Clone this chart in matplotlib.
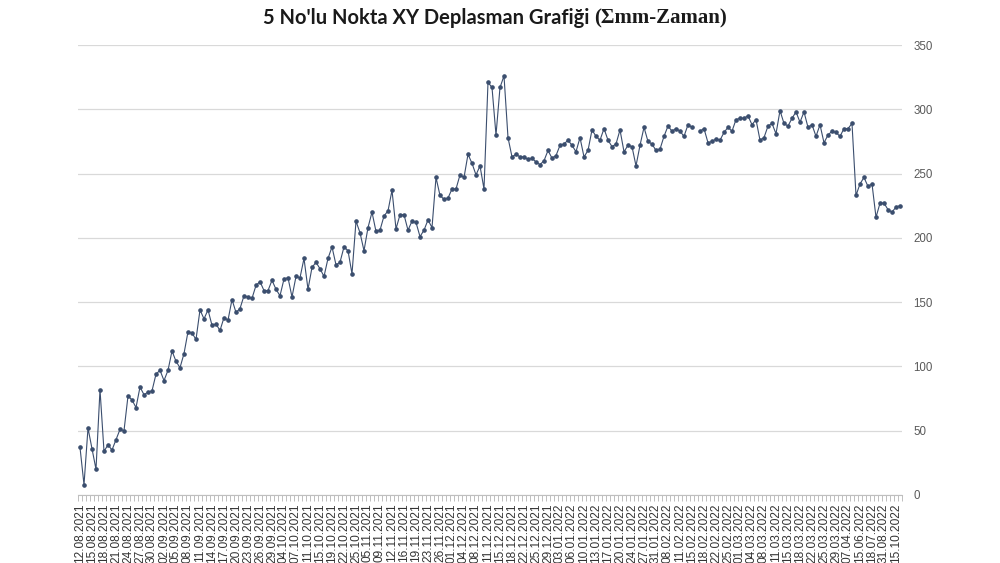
import matplotlib
matplotlib.use("Agg")
import matplotlib.pyplot as plt
import numpy as np

# x axis labels (every 3rd category is labelled)
date_labels = ["12.08.2021", "15.08.2021", "18.08.2021", "21.08.2021", "24.08.2021", "27.08.2021",
               "30.08.2021", "02.09.2021", "05.09.2021", "08.09.2021", "11.09.2021", "14.09.2021",
               "17.09.2021", "20.09.2021", "23.09.2021", "26.09.2021", "29.09.2021", "04.10.2021",
               "07.10.2021", "11.10.2021", "15.10.2021", "19.10.2021", "22.10.2021", "25.10.2021",
               "05.11.2021", "09.11.2021", "12.11.2021", "16.11.2021", "19.11.2021", "23.11.2021",
               "26.11.2021", "01.12.2021", "04.12.2021", "08.12.2021", "11.12.2021", "15.12.2021",
               "18.12.2021", "22.12.2021", "25.12.2021", "29.12.2021", "03.01.2022", "06.01.2022",
               "10.01.2022", "13.01.2022", "17.01.2022", "20.01.2022", "24.01.2022", "27.01.2022",
               "31.01.2022", "08.02.2022", "11.02.2022", "15.02.2022", "18.02.2022", "22.02.2022",
               "25.02.2022", "01.03.2022", "04.03.2022", "08.03.2022", "11.03.2022", "15.03.2022",
               "18.03.2022", "22.03.2022", "25.03.2022", "29.03.2022", "07.04.2022", "15.06.2022",
               "18.07.2022", "31.08.2022", "15.10.2022"]

# cumulative displacement (mm), None = missing reading
disp_2021a = [37, 8, 52, 36, 20, 82, 34, 39, 35, 43, 51, 50, 77, 74, 68, 84, 78, 80, 81, 94,
              97, 89, 97, 112, 104, 99, 110, 127, 126, 121, 144, 137, 144, 132, 133, 128, 138, 136, 152, 142,
              145, 155]
disp_2021b = [154, 153, 163, 166, 159, 159, 167, 160, 155, 168, 169, 154, 170, 169, 184, 160, 177, 181, 176, 170,
              184, 193, 179, 181, 193, 190, 172, 213, 204, 190, 208, 220, 205, 206, 217, 221, 237, 207, 218, 218]
disp_2021c = [206, 213, 212, 201, 206, 214, 208, 247, 233, 230, 231, 238, 238, 249, 247, 265, 258, 249, 256, 238,
              321, 317, 280, 317, 326, 278, 263, 265, 263, 263, 261, 262, 259, 257, 260, 268, 262, 264, 272, 273]
disp_2022a = [276, 272, 267, 278, 263, 268, 284, 279, 276, 285, 276, 271, 273, 284, 267, 272, 271, 256, 272, 286,
              275, 273, 268, 269, 279, 287, 283, 285, 283, 279, 288, 286, None, 283, 285, 274, 275, 277, 276, 282]
disp_2022b = [286, 283, 292, 293, 293, 295, 288, 292, 276, 278, 287, 289, 281, 299, 289, 287, 293, 298, 290, 298,
              286, 288, 279, 288, 274, 280, 283, 282, 279, 285, 285, 289, 233, 242, 247, 240, 242, 216, 227, 227,
              222, 220, 224, 225]

values = np.array([np.nan if v is None else v
                   for v in disp_2021a + disp_2021b + disp_2021c + disp_2022a + disp_2022b], dtype=float)
n = len(values)
x = np.arange(n)

fig = plt.figure(figsize=(10, 5.63), dpi=100)
ax = fig.add_axes([0.078, 0.1208, 0.824, 0.7992])

ax.plot(x, values, color="#3b4e6e", lw=0.8, marker="o", ms=2.3, zorder=3)

ax.set_xlim(-0.5, n - 0.5)
ax.set_ylim(0, 350)

# y axis on the right
ax.yaxis.tick_right()
ax.set_yticks(range(0, 351, 50))
ax.tick_params(axis="y", length=0, pad=8, labelsize=8.3, labelcolor="#595959")
for lab in ax.get_yticklabels():
    lab.set_family("Liberation Sans")
ax.grid(axis="y", color="#d9d9d9", lw=0.9)
ax.set_axisbelow(True)

for s in ["top", "left", "right"]:
    ax.spines[s].set_visible(False)
ax.spines["bottom"].set_color("#bfbfbf")

# category labels every 3rd point, tick marks between every category
lab_pos = x[::3][:len(date_labels)]
ax.set_xticks(lab_pos)
ax.set_xticklabels(date_labels, rotation=90, fontsize=8.6, color="#333333", family="Liberation Sans")
ax.set_xticks(np.arange(-0.5, n, 1), minor=True)
ax.tick_params(axis="x", which="major", length=0, pad=6)
ax.tick_params(axis="x", which="minor", length=4, color="#bfbfbf", width=0.7)

# title: sans part + serif part
part1 = "5 No'lu Nokta XY Deplasman Grafiği "
part2 = "(Σmm-Zaman)"
renderer = fig.canvas.get_renderer()
t1 = fig.text(0, 0.958, part1, fontsize=14.5, fontweight="bold", family=["Lato", "DejaVu Sans"],
              color="#1a1a1a", va="baseline", ha="left")
t2 = fig.text(0, 0.958, part2, fontsize=15, fontweight="bold", family=["Liberation Serif", "DejaVu Serif"],
              color="#1a1a1a", va="baseline", ha="left")
w1 = t1.get_window_extent(renderer).width
w2 = t2.get_window_extent(renderer).width
W = fig.bbox.width
start = (W - (w1 + w2)) / 2 - 5
t1.set_x(start / W)
t2.set_x((start + w1) / W)

fig.savefig("out.png", dpi=100)
